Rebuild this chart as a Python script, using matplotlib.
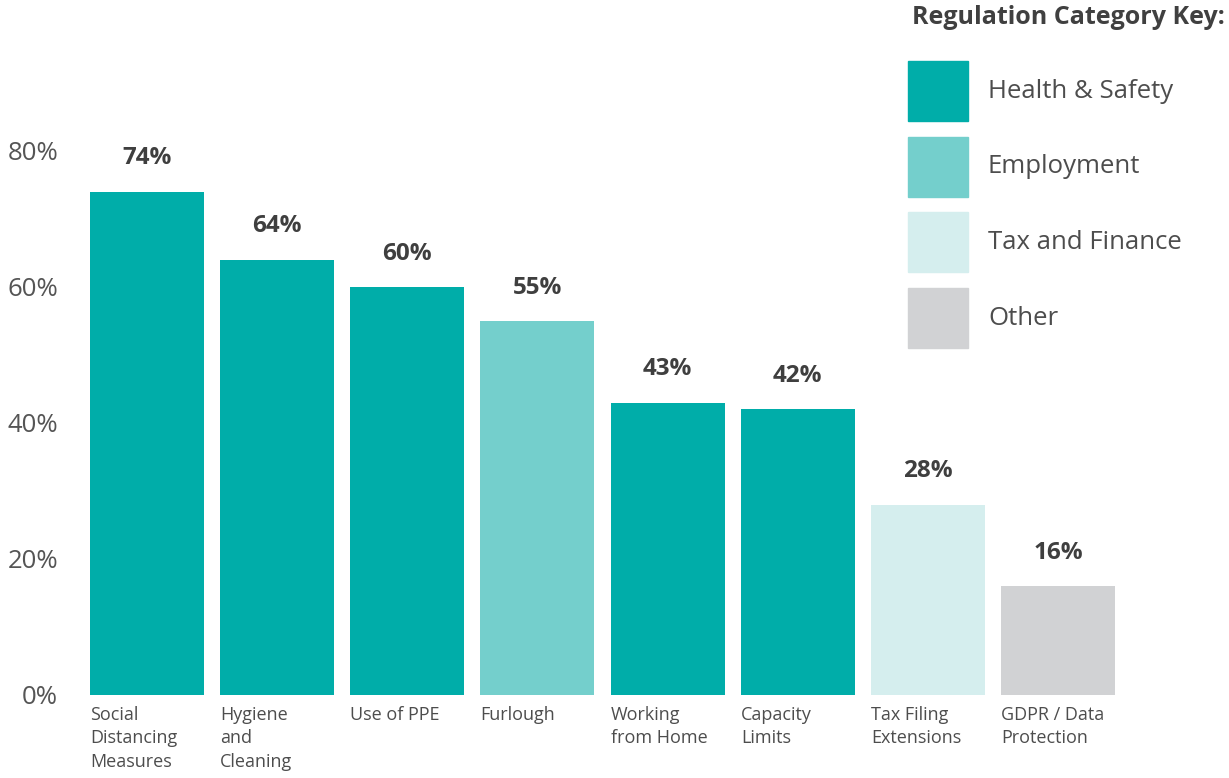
import matplotlib.pyplot as plt
from matplotlib.patches import Rectangle

# regulation areas and share of respondents (%)
categorias = ["Social\nDistancing\nMeasures", "Hygiene\nand\nCleaning", "Use of PPE", "Furlough",
              "Working\nfrom Home", "Capacity\nLimits", "Tax Filing\nExtensions", "GDPR / Data\nProtection"]
valores = [74, 64, 60, 55, 43, 42, 28, 16]
grupos = ["Health & Safety", "Health & Safety", "Health & Safety", "Employment",
          "Health & Safety", "Health & Safety", "Tax and Finance", "Other"]

chave = ["Health & Safety", "Employment", "Tax and Finance", "Other"]
cores = {"Health & Safety": "#00ADA9", "Employment": "#74CFCC",
         "Tax and Finance": "#D5EEEE", "Other": "#D1D2D4"}

plt.rcParams['font.family'] = ['Open Sans', 'DejaVu Sans']
texto = "#4d4d4d"

W, H = 1229, 778
fig = plt.figure(figsize=(W / 100, H / 100), dpi=100)
ax = fig.add_axes([90 / W, (H - 695) / H, 1025 / W, 680 / H])

x = list(range(len(valores)))
ax.bar(x, valores, width=0.875, color=[cores[g] for g in grupos])
ax.set_xlim(-0.4375, 7.4375)
ax.set_ylim(0, 100)

for xi, v in zip(x, valores):
    ax.annotate(f"{v}%", (xi, v), xytext=(0, 24), textcoords="offset points",
                ha="center", va="center", fontsize=17.5, fontweight="bold", color="#3f3f3f")

for xi, nome in zip(x, categorias):
    ax.annotate(nome, (xi - 0.4375, 0), xytext=(0, -8), textcoords="offset points",
                ha="left", va="top", fontsize=13, color=texto, linespacing=1.38)

ax.set_yticks([0, 20, 40, 60, 80])
ax.set_yticklabels(["0%", "20%", "40%", "60%", "80%"])
ax.tick_params(axis="y", length=0, pad=23, labelsize=18.5, labelcolor="#555555")
ax.set_xticks([])
for s in ax.spines.values():
    s.set_visible(False)

# category key
fig.text(912 / W, 1 - 18 / H, "Regulation Category Key:", ha="left", va="center",
         fontsize=18, fontweight="bold", color="#404040")
for i, g in enumerate(chave):
    topo = 61 + i * 75.7
    fig.patches.append(Rectangle((908 / W, 1 - (topo + 60) / H), 60 / W, 60 / H,
                                 transform=fig.transFigure, color=cores[g]))
    fig.text(988 / W, 1 - (topo + 30) / H, g, ha="left", va="center",
             fontsize=18.5, color=texto)

fig.savefig("out.png", dpi=100)
